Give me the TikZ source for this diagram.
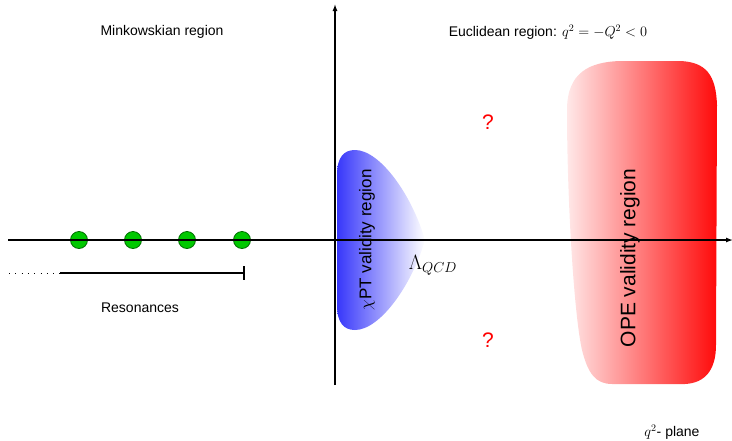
\documentclass[tikz,border=0pt]{standalone}
\usepackage[no-math]{fontspec}
\setmainfont{Liberation Sans}
\usetikzlibrary{arrows.meta}
\definecolor{dotgreen}{RGB}{0,200,0}
\definecolor{dotedge}{RGB}{0,110,0}
\definecolor{chiblue}{RGB}{55,55,250}
\definecolor{opered}{RGB}{255,10,10}
\definecolor{opepink}{RGB}{255,232,232}
\begin{document}
\begin{tikzpicture}[x=1pt,y=-1pt,
  lbl/.style={font=\fontsize{14}{16}\selectfont, inner sep=0pt},
  biglbl/.style={font=\fontsize{21}{24}\selectfont, inner sep=0pt, rotate=90},
  chilbl/.style={font=\fontsize{17}{20}\selectfont, inner sep=0pt, rotate=90},
  qmark/.style={font=\fontsize{21}{24}\selectfont, text=red, inner sep=0pt},
  axis/.style={line width=1.3pt, -{Latex[length=7pt,width=5pt]}},
  dotnode/.style={circle, minimum size=17pt, inner sep=0pt, fill=dotgreen, draw=dotedge, line width=0.8pt},
  bar/.style={line width=1.3pt}]
\useasboundingbox (0,0) rectangle (732,440);
% chi PT region
\path[shading=axis, left color=chiblue, right color=white, shading angle=90]
  (337,240) -- (337,175) .. controls (337,157) and (344,150) .. (355,150)
  .. controls (380,150) and (412,195) .. (425,240)
  .. controls (412,285) and (380,330) .. (355,330)
  .. controls (344,330) and (337,323) .. (337,305) -- cycle;
% OPE region
\path[left color=opepink, right color=opered]
  (567,110) .. controls (567,72) and (590,62) .. (620,61) -- (680,61)
  .. controls (706,62) and (716,75) .. (717,105) -- (716,345)
  .. controls (716,370) and (705,383) .. (685,384) -- (612,384)
  .. controls (596,384) and (588,374) .. (582,350)
  .. controls (574,315) and (567,200) .. (567,110) -- cycle;
% resonances
\node[dotnode] (r1) at (79,240) {};
\node[dotnode] (r2) at (133,240) {};
\node[dotnode] (r3) at (187,240) {};
\node[dotnode] (r4) at (242,240) {};
% axes
\coordinate (xl) at (8,240);
\coordinate (xr) at (733,240);
\coordinate (yb) at (335,385);
\coordinate (yt) at (335,4);
\draw[axis] (xl) -- (xr);
\draw[axis] (yb) -- (yt);
% resonance bar
\coordinate (d0) at (9,273);
\coordinate (d1) at (60,273);
\coordinate (b1) at (244,273);
\coordinate (bt) at (244,266);
\coordinate (bb) at (244,280);
\draw[line width=1pt, dash pattern=on 1pt off 5.3pt] (d0) -- (d1);
\draw[bar] (d1) -- (b1);
\draw[bar] (bt) -- (bb);
% labels
\node[lbl] (mink) at (162,32) {Minkowskian region};
\node[lbl] (eucl) at (548,32) {Euclidean region: $q^2=-Q^2<0$};
\node[lbl] (reso) at (140,308) {Resonances};
\node[lbl] (plane) at (672,432) {$q^2$- plane};
\node[qmark] (q1) at (488,122) {?};
\node[qmark] (q2) at (488,340) {?};
\node[inner sep=0pt, font=\fontsize{20}{24}\selectfont] (lam) at (433,265) {$\Lambda_{QCD}$};
\node[chilbl] (chi) at (367,240) {$\chi$PT validity region};
\node[biglbl] (ope) at (630,258) {OPE validity region};
\end{tikzpicture}
\end{document}
